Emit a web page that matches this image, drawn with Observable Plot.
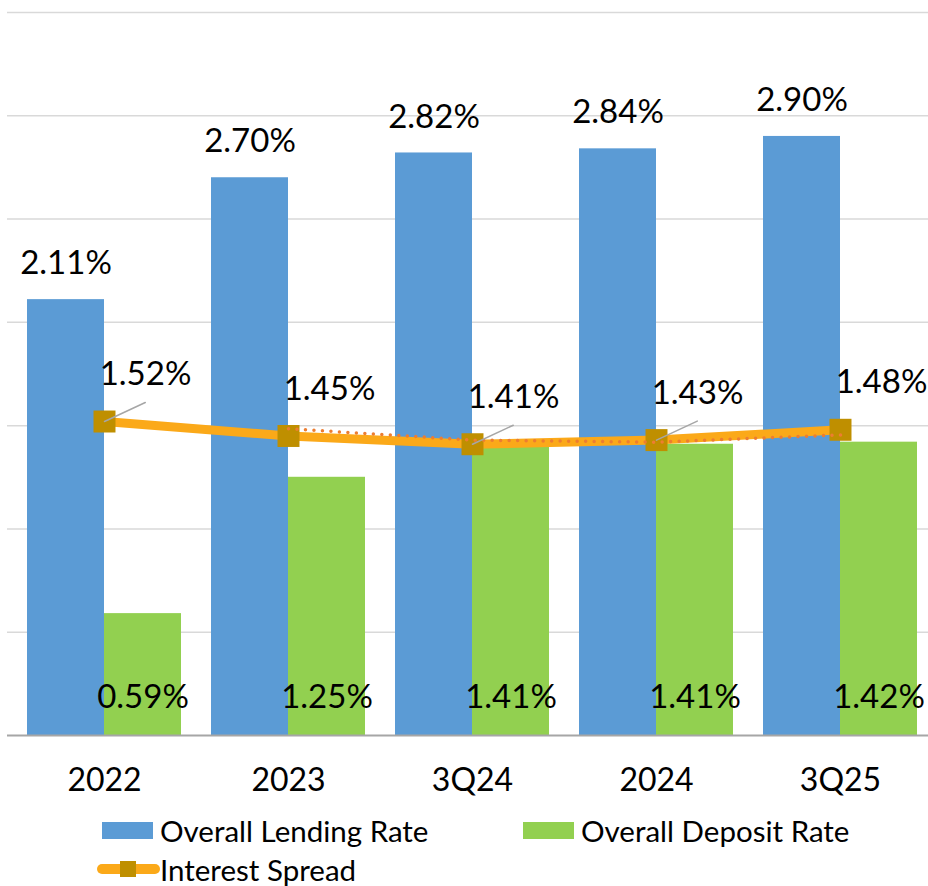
<!DOCTYPE html>
<html>
<head>
<meta charset="utf-8">
<script src="https://cdn.jsdelivr.net/npm/d3@7"></script>
<script src="https://cdn.jsdelivr.net/npm/@observablehq/plot@0.6"></script>
<style>
  html, body { margin: 0; padding: 0; background: #fff; }
  #wrap { width: 928px; font-family: Lato, sans-serif; color: #000; }
  #legend { position: relative; width: 928px; height: 76px; font-size: 29.5px; }
  .item { position: absolute; display: flex; align-items: center; height: 36px; white-space: nowrap; }
  .sw { display: inline-block; width: 51px; height: 17px; margin-right: 7px; }
</style>
</head>
<body>
<div id="wrap">
  <div id="chart"></div>
  <div id="legend"></div>
</div>
<script>
const categories = ["2022", "2023", "3Q24", "2024", "3Q25"];
const lending = [2.11, 2.70, 2.82, 2.84, 2.90];
const deposit = [0.59, 1.25, 1.41, 1.41, 1.42];
const spread = [1.52, 1.45, 1.41, 1.43, 1.48];
const yTicks = [0, 0.5, 1, 1.5, 2, 2.5, 3, 3.5];
const leaderCats = ["2022", "3Q24", "2024"];
const seriesNames = ["Overall Lending Rate", "Overall Deposit Rate", "Interest Spread"];

const colors = { lending: "#5B9BD5", deposit: "#92D050", spread: "#FBA919", marker: "#BF8F00", trend: "#ED7D31" };

const rows = categories.map((c, i) => ({ cat: c, lending: lending[i], deposit: deposit[i], spread: spread[i] }));
const fmt = d => d.toFixed(2) + "%";
const half = 77; // half of band width

const chart = Plot.plot({
  width: 928,
  height: 810,
  marginTop: 12,
  marginLeft: 7,
  marginRight: 0,
  marginBottom: 75,
  style: { fontFamily: "Lato, sans-serif", fontSize: "33px", color: "#000", background: "white", overflow: "visible" },
  x: { type: "band", domain: categories, paddingInner: 0.163, paddingOuter: 0.0842, align: 0.645, label: null },
  y: { domain: [0, 3.5], axis: null },
  marks: [
    Plot.ruleY(yTicks.slice(1), { stroke: "#d9d9d9", strokeWidth: 1.5 }),
    Plot.barY(rows, { x: "cat", y: "lending", fill: colors.lending, insetRight: half }),
    Plot.barY(rows, { x: "cat", y: "deposit", fill: colors.deposit, insetLeft: half }),
    Plot.ruleY([0], { stroke: "#a6a6a6", strokeWidth: 2 }),
    Plot.axisX({ tickSize: 0, tickPadding: 33, fontSize: 32, label: null, fill: "#000" }),
    Plot.text(rows, { x: "cat", y: "lending", text: d => fmt(d.lending), dx: -half / 2, dy: -36, fontSize: 33, fill: "#000" }),
    Plot.text(rows, { x: "cat", y: () => 0, text: d => fmt(d.deposit), dx: half / 2, dy: -38, fontSize: 33, fill: "#000" }),
    Plot.line(rows, { x: "cat", y: "spread", stroke: colors.spread, strokeWidth: 9, strokeLinecap: "round" }),
    Plot.dot(rows, { x: "cat", y: "spread", symbol: "square", r: 12.4, fill: colors.marker, stroke: "none" }),
    Plot.line(rows, Plot.windowY({ k: 2, anchor: "end", reduce: "mean", strict: true }, { x: "cat", y: "spread", stroke: colors.trend, strokeWidth: 3.5, strokeDasharray: "0 8.5", strokeLinecap: "round" })),
    Plot.vector(rows.filter(d => leaderCats.includes(d.cat)), {
      x: "cat", y: "spread", length: 45, rotate: 65, anchor: "start", stroke: "#a6a6a6", strokeWidth: 1.5,
      shape: { draw(context, l) { context.moveTo(0, 0); context.lineTo(0, -l); } }
    }),
    Plot.text(rows, { x: "cat", y: "spread", text: d => fmt(d.spread), dx: 41, dy: -47, fontSize: 33, fill: "#000" })
  ]
});
document.getElementById("chart").appendChild(chart);

// Legend
const legend = document.getElementById("legend");
function addItem(left, top, swatchHTML, label) {
  const el = document.createElement("div");
  el.className = "item";
  el.style.left = left + "px";
  el.style.top = top + "px";
  el.innerHTML = swatchHTML + "<span>" + label + "</span>";
  legend.appendChild(el);
}
addItem(102, 2, `<span class="sw" style="background:${colors.lending}"></span>`, seriesNames[0]);
addItem(523, 2, `<span class="sw" style="background:${colors.deposit}"></span>`, seriesNames[1]);
addItem(97, 41, `<svg width="63" height="20" style="margin-right:0px"><line x1="5" x2="58" y1="10" y2="10" stroke="${colors.spread}" stroke-width="10" stroke-linecap="round"/><rect x="23" y="2" width="16" height="16" fill="${colors.marker}"/></svg>`, seriesNames[2]);
</script>
</body>
</html>
